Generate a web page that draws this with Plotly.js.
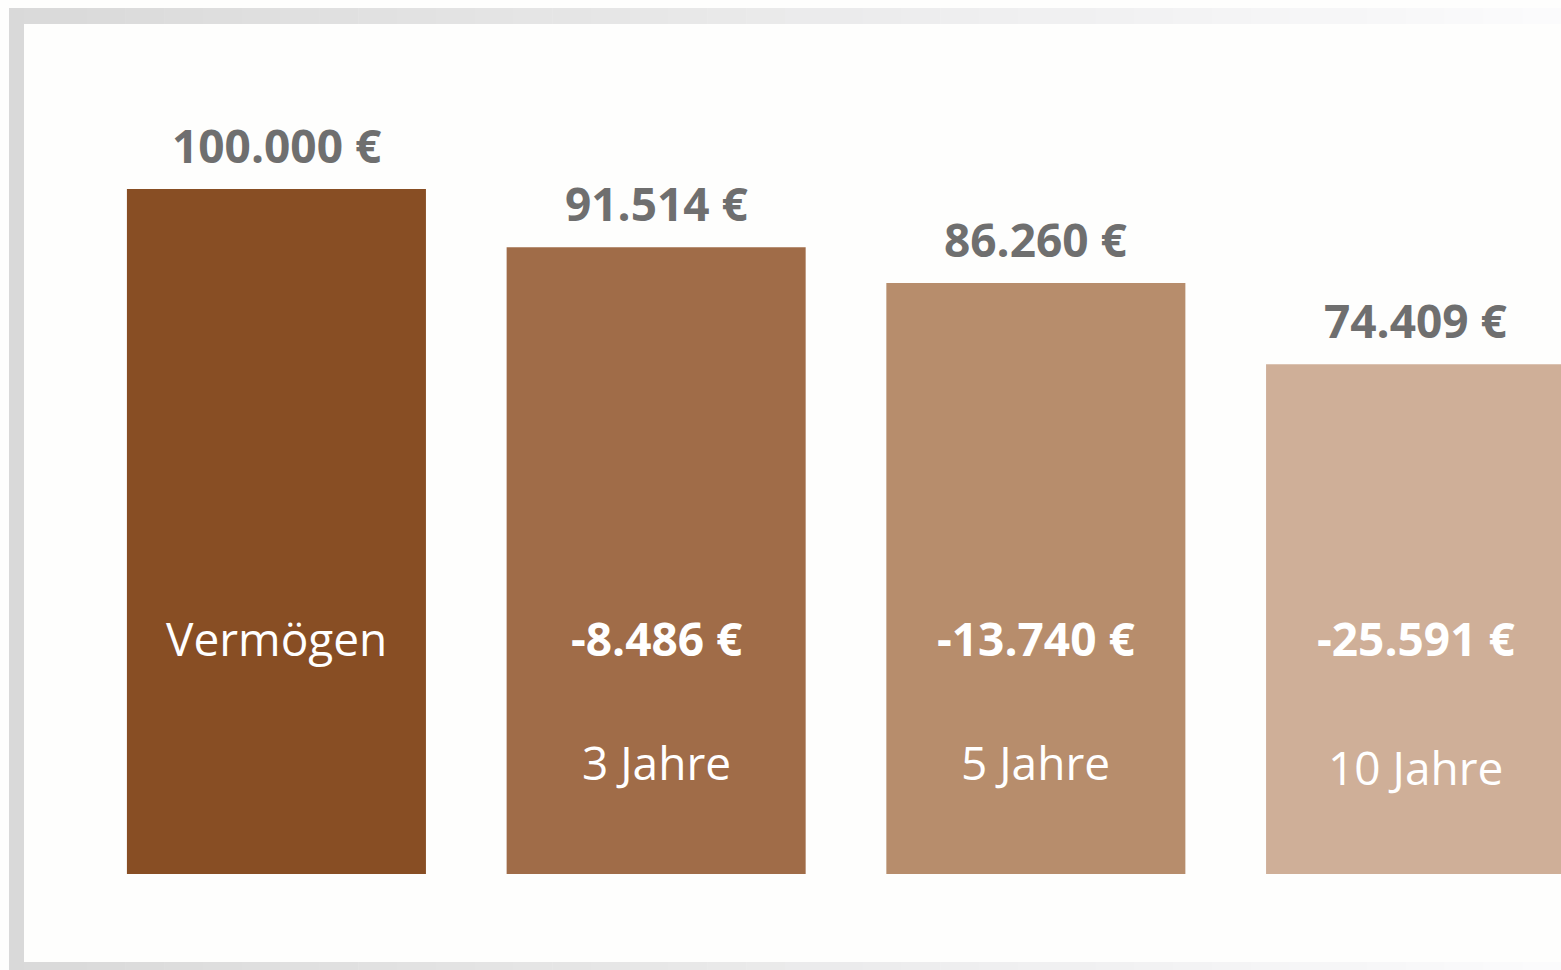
<!DOCTYPE html>
<html>
<head>
<meta charset="utf-8">
<script src="https://cdn.plot.ly/plotly-3.0.1.min.js"></script>
<style>
  html, body { margin: 0; padding: 0; background: #ffffff; }
  #chart { width: 1561px; height: 970px; }
</style>
</head>
<body>
<div id="chart"></div>
<script>
// ---- data ----
const categories = ["Vermögen", "3 Jahre", "5 Jahre", "10 Jahre"];
const values = [100000, 91514, 86260, 74409];
const deltas = [null, -8486, -13740, -25591];
const barColors = ["#884e24", "#a06c48", "#b78d6c", "#cfaf98"];

// ---- helpers ----
function fmt(v) {
  const s = Math.abs(Math.round(v)).toString().replace(/\B(?=(\d{3})+(?!\d))/g, ".");
  return (v < 0 ? "-" : "") + s + " €";
}
const W = 1561, H = 970, mL = 0, mR = 0, mT = 105, mB = 96;
const plotH = H - mT - mB;
const px2x = px => (px - mL) / (W - mL - mR);
const py2y = py => (H - mB - py) / plotH;

const FONT = "Open Sans, Noto Sans, sans-serif";

// ---- frame (gradient grey border) ----
const shapes = [];
const N = 40;
const x0 = 9, x1 = W;
for (let i = 0; i < N; i++) {
  const a = x0 + (x1 - x0) * i / N;
  const b = x0 + (x1 - x0) * (i + 1) / N + 0.5;
  const t = (a + b) / 2 / W;
  const g = Math.round(217 + (251 - 217) * t);
  const col = `rgb(${g},${g},${g + (t > 0.5 ? 1 : 0)})`;
  shapes.push({type: "rect", xref: "paper", yref: "paper", layer: "below",
    x0: px2x(a), x1: px2x(b), y0: py2y(8), y1: py2y(24),
    fillcolor: col, line: {width: 0}});
  shapes.push({type: "rect", xref: "paper", yref: "paper", layer: "below",
    x0: px2x(a), x1: px2x(b), y0: py2y(962), y1: py2y(972),
    fillcolor: col, line: {width: 0}});
}
shapes.push({type: "rect", xref: "paper", yref: "paper", layer: "below",
  x0: px2x(9), x1: px2x(24), y0: py2y(8), y1: py2y(972),
  fillcolor: "#d9d9d9", line: {width: 0}});

// ---- annotations ----
const annotations = [];
const innerLabelY = [760, 762, 762, 767];
categories.forEach((c, i) => {
  annotations.push({
    x: c, y: values[i], xref: "x", yref: "y",
    text: "<b>" + fmt(values[i]) + "</b>", showarrow: false,
    yanchor: "bottom", xanchor: "center", yshift: 11,
    font: {family: FONT, size: 46, color: "#6f6f6f"}
  });
  if (deltas[i] === null) {
    annotations.push({
      x: c, y: py2y(638), xref: "x", yref: "paper",
      text: c, showarrow: false, yanchor: "middle", xanchor: "center",
      font: {family: FONT, size: 46, color: "#ffffff"}
    });
  } else {
    annotations.push({
      x: c, y: py2y(638), xref: "x", yref: "paper",
      text: "<b>" + fmt(deltas[i]) + "</b>", showarrow: false,
      yanchor: "middle", xanchor: "center",
      font: {family: FONT, size: 46, color: "#ffffff"}
    });
    annotations.push({
      x: c, y: py2y(innerLabelY[i]), xref: "x", yref: "paper",
      text: c, showarrow: false, yanchor: "middle", xanchor: "center",
      font: {family: FONT, size: 46, color: "#ffffff"}
    });
  }
});

const trace = {
  type: "bar",
  x: categories,
  y: values,
  marker: {color: barColors, line: {width: 0}},
  hoverinfo: "none",
  cliponaxis: true
};

const layout = {
  width: W, height: H,
  margin: {l: mL, r: mR, t: mT, b: mB, pad: 0},
  paper_bgcolor: "#fefefd",
  plot_bgcolor: "rgba(0,0,0,0)",
  separators: ",.",
  showlegend: false,
  bargap: 0.2125,
  xaxis: {
    type: "category", range: [-0.728, 3.383],
    showticklabels: false, showgrid: false, zeroline: false, showline: false, ticks: ""
  },
  yaxis: {
    range: [0, 100000 * plotH / 685],
    showticklabels: false, showgrid: false, zeroline: false, showline: false, ticks: ""
  },
  shapes: shapes,
  annotations: annotations
};

Plotly.newPlot("chart", [trace], layout, {displayModeBar: false, staticPlot: true});
</script>
</body>
</html>
